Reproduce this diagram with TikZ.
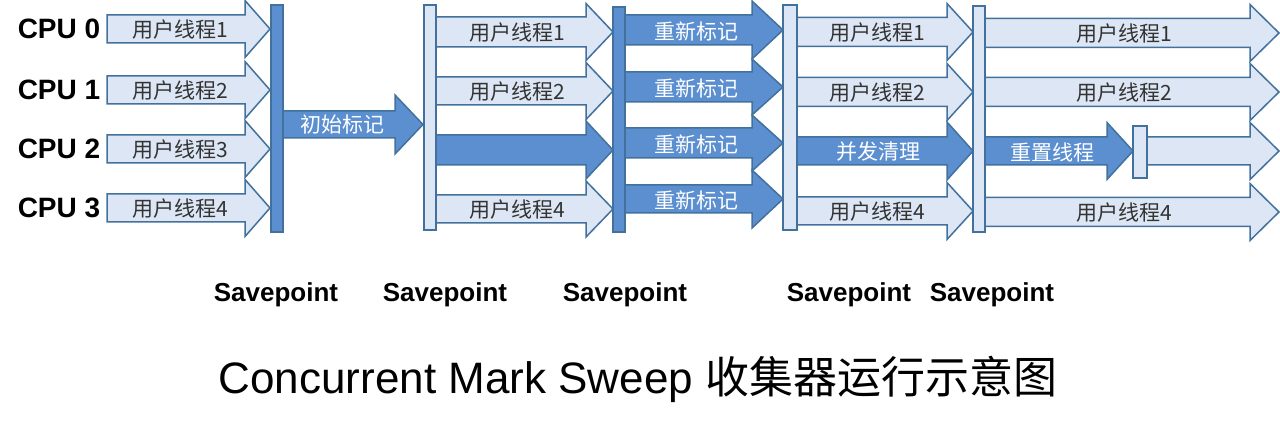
\documentclass[tikz,border=0pt]{standalone}
\usepackage{fontspec}
\setmainfont{Liberation Sans}
\newfontfamily\cjk{Noto Sans CJK SC}
\definecolor{lightfill}{HTML}{DCE6F4}
\definecolor{darkfill}{HTML}{5B8FD0}
\definecolor{edge}{HTML}{41719C}
% block arrow: style, x start, x head, x tip, y centre, body half, head half
\newcommand{\thread}[7]{%
\draw [#1] (#2,#5-#6) -- (#3,#5-#6) -- (#3,#5-#7) -- (#4,#5) -- (#3,#5+#7) -- (#3,#5+#6) -- (#2,#5+#6) -- cycle;}
\begin{document}
\begin{tikzpicture}[x=1pt,y=-1pt]
\tikzset{
  lt/.style={fill=lightfill,draw=edge,line width=1.5pt,line join=miter},
  dk/.style={fill=darkfill,draw=edge,line width=1.5pt,line join=miter},
  ltbar/.style={rectangle,fill=lightfill,draw=edge,line width=1.5pt,minimum width=12pt,inner sep=0pt},
  dkbar/.style={rectangle,fill=darkfill,draw=edge,line width=1.5pt,minimum width=12pt,inner sep=0pt},
  tlbl/.style={font=\cjk\fontsize{21}{24}\selectfont,text=black!80,inner sep=0pt},
  wlbl/.style={font=\cjk\fontsize{21}{24}\selectfont,text=white,inner sep=0pt},
  cpu/.style={font=\fontsize{28}{30}\selectfont\bfseries,inner sep=0pt},
  spt/.style={font=\fontsize{26}{28}\selectfont\bfseries,inner sep=0pt}
}
\useasboundingbox (0,0) rectangle (1280,430);
% CPU rows
\node [cpu] (cpu0) at (59,29) {CPU 0};
\node [cpu] (cpu1) at (59,90) {CPU 1};
\node [cpu] (cpu2) at (59,149) {CPU 2};
\node [cpu] (cpu3) at (59,208) {CPU 3};
% user threads before initial mark
\thread{lt}{107}{245}{270}{29}{14}{28.5}
\thread{lt}{107}{245}{270}{90}{14}{28.5}
\thread{lt}{107}{245}{270}{149}{14}{28.5}
\thread{lt}{107}{245}{270}{208}{14}{28.5}
\node [tlbl] (ua1) at (180,30) {用户线程1};
\node [tlbl] (ua2) at (180,91) {用户线程2};
\node [tlbl] (ua3) at (180,150) {用户线程3};
\node [tlbl] (ua4) at (180,209) {用户线程4};
% initial mark
\thread{dk}{283}{395}{423}{124.5}{13.5}{29.5}
\node [wlbl] (init) at (342,125) {初始标记};
% concurrent mark
\thread{lt}{436}{586}{613}{32}{15}{28.5}
\thread{lt}{436}{586}{613}{91}{14}{28.5}
\thread{dk}{436}{586}{613}{150}{15}{29}
\thread{lt}{436}{586}{613}{209}{14}{28}
\node [tlbl] (ub1) at (517,33) {用户线程1};
\node [tlbl] (ub2) at (517,92) {用户线程2};
\node [tlbl] (ub4) at (517,210) {用户线程4};
% remark
\thread{dk}{625}{752}{783}{30}{15}{29}
\thread{dk}{625}{752}{783}{87}{15}{28}
\thread{dk}{625}{752}{783}{143}{15}{28}
\thread{dk}{625}{752}{783}{199}{14}{29}
\node [wlbl] (rm1) at (696,31) {重新标记};
\node [wlbl] (rm2) at (696,88) {重新标记};
\node [wlbl] (rm3) at (696,144) {重新标记};
\node [wlbl] (rm4) at (696,200) {重新标记};
% concurrent sweep
\thread{lt}{797}{947}{973}{32}{14.5}{28.5}
\thread{lt}{797}{947}{973}{92}{14.5}{28.5}
\thread{dk}{797}{947}{973}{151}{14}{29}
\thread{lt}{797}{947}{973}{211}{14}{28.5}
\node [tlbl] (uc1) at (877,33) {用户线程1};
\node [tlbl] (uc2) at (877,93) {用户线程2};
\node [wlbl] (sweep) at (878,152) {并发清理};
\node [tlbl] (uc4) at (877,212) {用户线程4};
% reset and user threads
\thread{lt}{985}{1250}{1279}{33}{14.5}{28.5}
\thread{lt}{985}{1250}{1279}{92}{14.5}{28.5}
\thread{lt}{1147}{1250}{1279}{151}{14}{28.5}
\thread{dk}{985}{1107}{1133}{151}{14}{28.5}
\thread{lt}{985}{1250}{1279}{212}{14.5}{28.5}
\node [tlbl] (ud1) at (1124,34) {用户线程1};
\node [tlbl] (ud2) at (1124,93) {用户线程2};
\node [wlbl] (reset) at (1052,152) {重置线程};
\node [tlbl] (ud4) at (1124,213) {用户线程4};
% safepoint bars
\node [dkbar,minimum height=227pt] (b1) at (277,118.5) {};
\node [ltbar,minimum height=225pt] (b2) at (430,117.5) {};
\node [dkbar,minimum height=225pt] (b3) at (619,119.5) {};
\node [ltbar,minimum height=225pt,minimum width=14pt] (b4) at (790,117.5) {};
\node [ltbar,minimum height=226pt] (b5) at (979,119) {};
\node [ltbar,minimum height=52pt,minimum width=14pt] (b6) at (1140,152) {};
% labels
\node [spt] (s1) at (276,295) {Savepoint};
\node [spt] (s2) at (445,295) {Savepoint};
\node [spt] (s3) at (625,295) {Savepoint};
\node [spt] (s4) at (849,295) {Savepoint};
\node [spt] (s5) at (992,295) {Savepoint};
\node [font=\fontsize{44}{48}\selectfont,inner sep=0pt] (title) at (638,379) {Concurrent Mark Sweep {\cjk 收集器运行示意图}};
\end{tikzpicture}
\end{document}
